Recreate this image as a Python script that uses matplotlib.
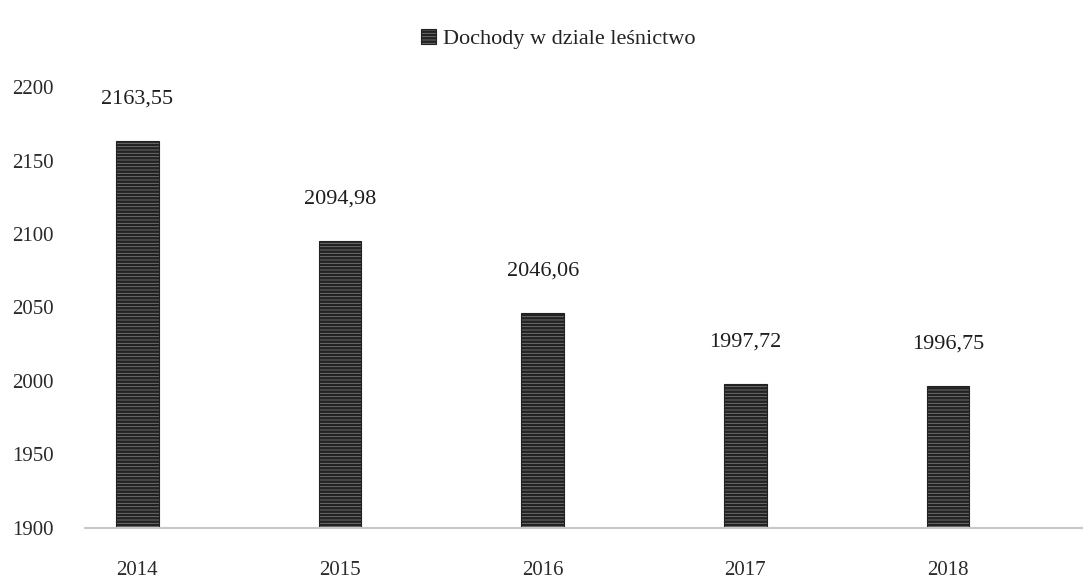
import matplotlib.pyplot as plt
from matplotlib.patches import Rectangle

years = ['2014', '2015', '2016', '2017', '2018']
values = [2163.55, 2094.98, 2046.06, 1997.72, 1996.75]
labels = ['2163,55', '2094,98', '2046,06', '1997,72', '1996,75']
yticks = [1900, 1950, 2000, 2050, 2100, 2150, 2200]
series_name = 'Dochody w dziale leśnictwo'

plt.rcParams['font.family'] = ['Liberation Serif', 'DejaVu Serif']
plt.rcParams['hatch.linewidth'] = 1.8
plt.rcParams['hatch.color'] = '#1a1a1a'

fig = plt.figure(figsize=(10.84, 5.84), dpi=100, facecolor='white')
ax = fig.add_axes([0.078, 0.096, 0.92, 0.755])

x = range(len(years))
bars = ax.bar(x, [v - 1900 for v in values], bottom=1900, width=0.21,
              color='#7a7a7a', edgecolor='#222222', linewidth=0.8,
              hatch='-----')

# value labels above bars
for xi, v, lab in zip(x, values, labels):
    ax.text(xi, v + 22, lab, ha='center', va='bottom', fontsize=16,
            color='#1e1e1e', clip_on=False)

ax.set_ylim(1900, 2200)
ax.set_xlim(-0.26, 4.66)
ax.set_yticks(yticks)
ax.set_yticklabels([str(t) for t in yticks], fontsize=15, color='#2a2a2a')
ax.set_xticks(list(x))
ax.set_xticklabels(years, fontsize=15, color='#2a2a2a')
ax.tick_params(axis='both', length=0)
ax.tick_params(axis='x', pad=24)
ax.tick_params(axis='y', pad=22)

for s in ['top', 'right', 'left']:
    ax.spines[s].set_visible(False)
ax.spines['bottom'].set_color('#c8c8c8')
ax.spines['bottom'].set_linewidth(1.5)

# legend at top
handle = Rectangle((0, 0), 1, 1, facecolor='#7a7a7a', edgecolor='#222222',
                   hatch='-----', linewidth=0.8)
fig.legend([handle], [series_name], loc='upper center',
           bbox_to_anchor=(0.515, 0.985), frameon=False, fontsize=16,
           handlelength=0.7, handleheight=0.7, handletextpad=0.3,
           labelcolor='#222222')

fig.savefig('out.png', dpi=100, facecolor=fig.get_facecolor())
